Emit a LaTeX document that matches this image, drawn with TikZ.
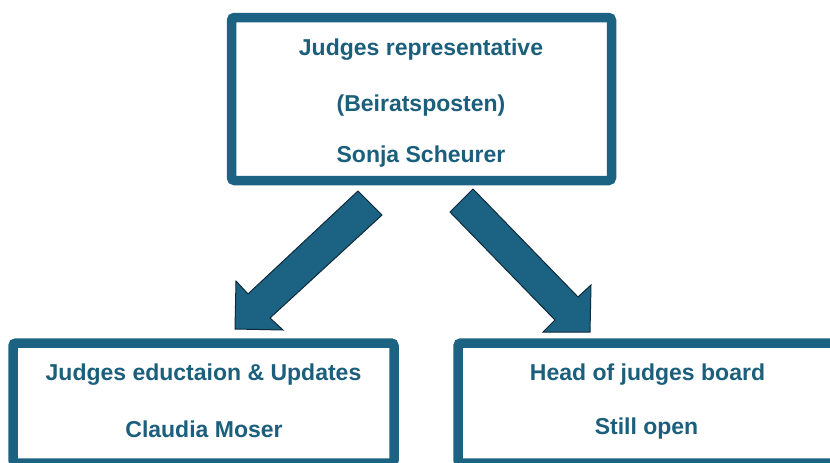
\documentclass[tikz,border=0pt]{standalone}
\usepackage{fontspec}
\setmainfont{Liberation Sans}
\definecolor{teal1}{HTML}{1C6383}
\definecolor{tealtext}{HTML}{1B5F7D}
\definecolor{navyline}{HTML}{0E2A3A}
\begin{document}
\begin{tikzpicture}[x=1pt,y=-1pt,
  box/.style={draw=teal1, line width=9.5pt, fill=white, rounded corners=3pt, inner sep=0pt, outer sep=0pt},
  lbl/.style={text=tealtext, font=\fontsize{23}{27}\selectfont\bfseries, inner sep=0pt, anchor=center},
  blockarrow/.style={fill=teal1, draw=navyline, line width=1pt, line join=miter}]
\useasboundingbox (0,0) rectangle (830,463);
\clip (0,0) rectangle (830,463);
\node[box, minimum width=380pt, minimum height=163pt] (top) at (421.5,99) {};
\node[box, minimum width=381pt, minimum height=120pt] (left) at (203.5,403) {};
\node[box, minimum width=392pt, minimum height=120pt] (right) at (654,403) {};
\node[lbl] (t1) at (421,50) {Judges representative};
\node[lbl] (t2) at (421,106) {(Beiratsposten)};
\node[lbl] (t3) at (421,157) {Sonja Scheurer};
\node[lbl] (l1) at (203.5,375) {Judges eductaion \& Updates};
\node[lbl] (l2) at (204,429) {Claudia Moser};
\node[lbl] (r1) at (647.5,375) {Head of judges board};
\node[lbl] (r2) at (646.5,429) {Still open};
\draw[blockarrow] (358,191) -- (382,215) -- (270,318) -- (283,330) -- (235,329) -- (236,281) -- (248,294) -- cycle;
\draw[blockarrow] (473,189) -- (450,212) -- (555,320) -- (543,332) -- (590,332) -- (591,285) -- (578,297) -- cycle;
\end{tikzpicture}
\end{document}
